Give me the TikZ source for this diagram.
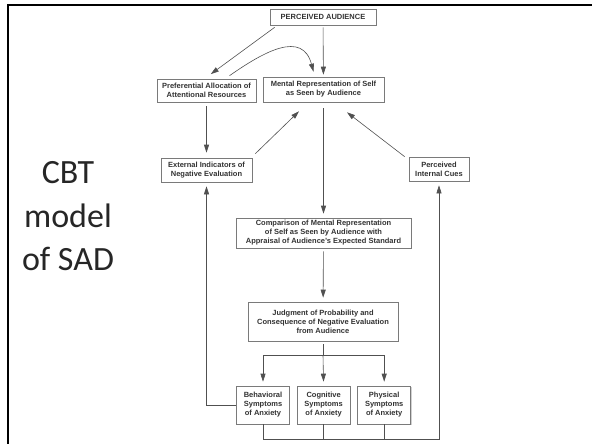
\documentclass[tikz,border=0pt]{standalone}
\usepackage{fontspec}
\setmainfont{Liberation Sans}
\newfontfamily\slidefont{Carlito}
\usepackage{tikz}
\usetikzlibrary{arrows.meta, positioning, shadows}
\definecolor{inkgray}{HTML}{333333}
\definecolor{linegray}{HTML}{505050}
\definecolor{framegray}{HTML}{7A7A7A}

\begin{document}
\begin{tikzpicture}[
    x=1pt, y=-1pt,
    font=\fontsize{7.5}{9}\selectfont\bfseries,
    >={Triangle[length=8pt,width=5pt]},
    box/.style={draw=framegray, fill=white, line width=0.6pt, align=center,
                inner sep=1pt, text=inkgray,
                drop shadow={shadow xshift=0.8pt, shadow yshift=-0.8pt, fill=black!30, opacity=0.6}},
    symbox/.style={box, minimum width=53pt, minimum height=38pt},
    line/.style={draw=linegray, line width=0.6pt, ->},
    plain/.style={draw=linegray, line width=0.6pt},
    slidetext/.style={font=\slidefont\fontsize{34}{43.5}\selectfont, text=black!85, anchor=base}
]
  \useasboundingbox (0,0) rectangle (592,444);

  % Slide frame
  \draw[line width=2.5pt] (8,444) -- (8,5.2) -- (592,5.2);

  % Slide title
  \node[slidetext] (t1) at (68,183) {CBT};
  \node[slidetext] (t2) at (68,227) {model};
  \node[slidetext] (t3) at (68,270) {of SAD};

  % Upper part
  \node[box, minimum width=106pt, minimum height=16pt] (aud) at (323,17) {PERCEIVED AUDIENCE};
  \node[box, minimum width=99pt, minimum height=23pt] (pref) at (206.5,90.5) {Preferential Allocation of\\Attentional Resources};
  \node[box, minimum width=121pt, minimum height=25pt] (mental) at (323.5,89.5) {Mental Representation of Self\\as Seen by Audience};
  \node[box, minimum width=91pt, minimum height=24pt] (ext) at (206.5,170) {External Indicators of\\Negative Evaluation};
  \node[box, minimum width=60pt, minimum height=24pt] (cues) at (439,169) {Perceived\\Internal Cues};

  % Central column
  \node[box, minimum width=175pt, minimum height=30pt] (comp) at (323.5,233) {Comparison of Mental Representation\\of Self as Seen by Audience with\\Appraisal of Audience's Expected Standard};
  \node[box, minimum width=150pt, minimum height=39pt] (judg) at (323,321.5) {Judgment of Probability and\\Consequence of Negative Evaluation\\from Audience};

  % Symptoms
  \node[symbox] (beh) at (263,405) {Behavioral\\Symptoms\\of Anxiety};
  \node[symbox, right=7pt of beh] (cog) {Cognitive\\Symptoms\\of Anxiety};
  \node[symbox, right=7pt of cog] (phys) {Physical\\Symptoms\\of Anxiety};

  % Connectors
  \draw[line, shorten >=1pt] ([xshift=5pt,yshift=-2pt]aud.south west) -- ([xshift=3.5pt,yshift=4pt]pref.north);
  \draw[line, shorten <=2pt, shorten >=2pt] (aud) -- (mental);
  \draw[line] ([xshift=23pt,yshift=3pt]pref.north) to[out=35,in=105,looseness=1.3] ([xshift=-10pt,yshift=5pt]mental.north);
  \draw[line, shorten <=4pt, shorten >=5pt] (pref) -- (ext);
  \draw[line] ([xshift=3pt,yshift=4pt]ext.north east) -- ([xshift=-24.5pt,yshift=-9pt]mental.south);
  \draw[line] ([xshift=-4pt]cues.north west) -- ([xshift=23.5pt,yshift=-10pt]mental.south);
  \draw[line, shorten <=6pt, shorten >=4pt] (mental) -- (comp);
  \draw[line, shorten <=3pt, shorten >=4pt] (comp) -- (judg);

  % Branch to the symptoms
  \coordinate (split) at (323,355);
  \draw[plain, shorten <=3pt] (judg.south) -- (split);
  \draw[line, shorten >=4pt] (split) -- (cog.north);
  \draw[line, shorten >=4pt] (split) -| (beh.north);
  \draw[line, shorten >=4pt] (split) -| (phys.north);

  % Feedback loops
  \coordinate (base) at (0,439);
  \draw[line, shorten >=4pt] (beh.west) -| (ext.south);
  \draw[line, shorten >=4pt] (beh.south) |- (base -| cues.south) -- (cues.south);
  \draw[plain] (cog.south) -- (cog.south |- base);
  \draw[plain] (phys.south) -- (phys.south |- base);
\end{tikzpicture}
\end{document}
